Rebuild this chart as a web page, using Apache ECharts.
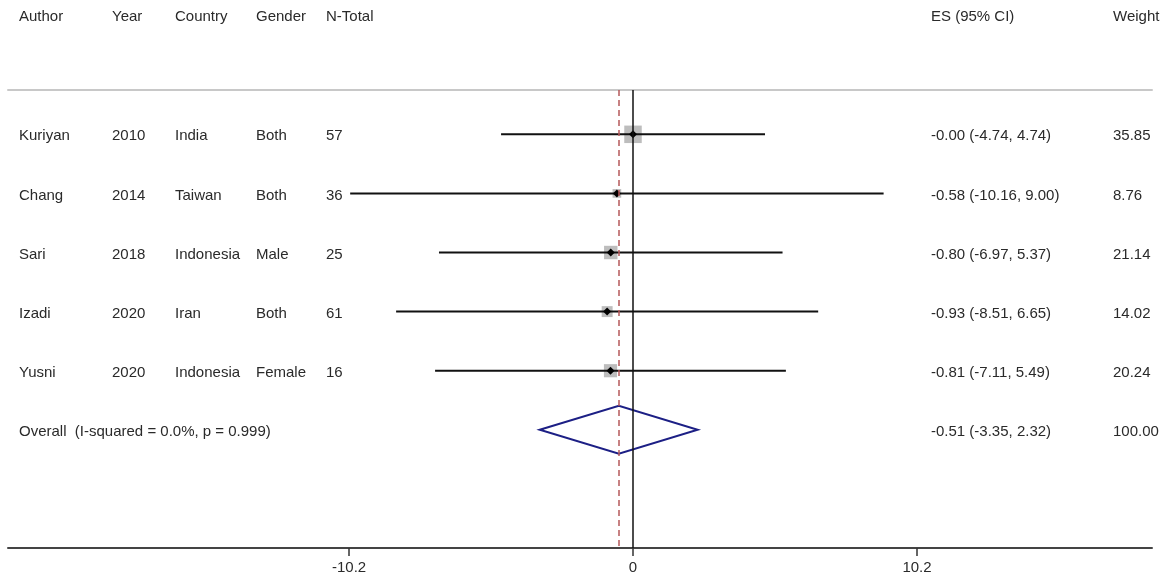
<!DOCTYPE html>
<html>
<head>
<meta charset="utf-8">
<title>Forest plot</title>
<script src="https://cdn.jsdelivr.net/npm/echarts@6/dist/echarts.min.js"></script>
<style>
  html, body { margin: 0; padding: 0; background: #fff; }
</style>
</head>
<body>
<div id="main" style="width: 1164px; height: 581px;"></div>
<script type="text/javascript">
// study rows
var authors = ['Kuriyan', 'Chang', 'Sari', 'Izadi', 'Yusni'];
var years = ['2010', '2014', '2018', '2020', '2020'];
var countries = ['India', 'Taiwan', 'Indonesia', 'Iran', 'Indonesia'];
var genders = ['Both', 'Both', 'Male', 'Both', 'Female'];
var nTotal = [57, 36, 25, 61, 16];
var es = [-0.001, -0.58, -0.80, -0.93, -0.81];
var ciLow = [-4.74, -10.16, -6.97, -8.51, -7.11];
var ciHigh = [4.74, 9.00, 5.37, 6.65, 5.49];
var weights = [35.85, 8.76, 21.14, 14.02, 20.24];

// pooled estimate
var overallEs = -0.51;
var overallLow = -3.35;
var overallHigh = 2.32;
var overallWeight = 100.00;
var iSquared = '0.0%';
var pValue = '0.999';

var headers = ['Author', 'Year', 'Country', 'Gender', 'N-Total', 'ES (95% CI)', 'Weight'];
var xTicks = [-10.2, 0, 10.2];

var chartDom = document.getElementById('main');
var myChart = echarts.init(chartDom);
var option;

var FONT = 'Liberation Sans, Arial, sans-serif';
var TXT = '#2a2a2a';
var colX = [19, 112, 175, 256, 326, 931, 1113];

function fmt(v) {
  var s = Math.abs(v).toFixed(2);
  return (v < 0 ? '-' : '') + s;
}
function esLabel(e, lo, hi) {
  return fmt(e) + ' (' + fmt(lo) + ', ' + fmt(hi) + ')';
}

var studyData = [];
for (var i = 0; i < authors.length; i++) {
  studyData.push([ciLow[i], ciHigh[i], es[i], i + 1, weights[i]]);
}
var overallRow = authors.length + 1;
var tableRows = [];
for (var j = 1; j <= overallRow; j++) tableRows.push([0, j]);

function txt(x, y, s) {
  return {
    type: 'text',
    style: { x: x, y: y + 2, text: s, fill: TXT, font: '15px ' + FONT, textVerticalAlign: 'middle' }
  };
}

option = {
  animation: false,
  backgroundColor: '#fff',
  grid: { left: 8, right: 12, top: 90, bottom: 33, containLabel: false },
  graphic: headers.map(function (h, k) {
    return {
      type: 'text', left: colX[k], top: 9,
      style: { text: h, fill: TXT, font: '15px ' + FONT }
    };
  }),
  xAxis: [
    {
      type: 'value', min: -22.45, max: 18.64,
      splitLine: { show: false },
      axisLine: { show: true, onZero: false, lineStyle: { color: '#444', width: 2 } },
      axisTick: { show: true, customValues: xTicks, length: 8, lineStyle: { color: '#333', width: 1.5 } },
      axisLabel: { customValues: xTicks, color: TXT, fontSize: 15, fontFamily: FONT, margin: 12 }
    },
    {
      type: 'value', position: 'top', min: -22.45, max: 18.64,
      splitLine: { show: false },
      axisLine: { show: true, onZero: false, lineStyle: { color: '#c8c8c8', width: 2 } },
      axisTick: { show: false },
      axisLabel: { show: false }
    }
  ],
  yAxis: {
    type: 'value', inverse: true, min: 0.25, max: 8,
    show: false
  },
  series: [
    {
      type: 'custom',
      name: 'table',
      data: tableRows,
      silent: true,
      renderItem: function (params, api) {
        var r = api.value(1);
        var y = api.coord([0, r])[1];
        var k = params.dataIndex;
        var ch = [];
        if (r < overallRow) {
          ch.push(txt(colX[0], y, authors[k]));
          ch.push(txt(colX[1], y, years[k]));
          ch.push(txt(colX[2], y, countries[k]));
          ch.push(txt(colX[3], y, genders[k]));
          ch.push(txt(colX[4], y, String(nTotal[k])));
          ch.push(txt(colX[5], y, esLabel(es[k], ciLow[k], ciHigh[k])));
          ch.push(txt(colX[6], y, weights[k].toFixed(2)));
        } else {
          ch.push(txt(colX[0], y, 'Overall  (I-squared = ' + iSquared + ', p = ' + pValue + ')'));
          ch.push(txt(colX[5], y, esLabel(overallEs, overallLow, overallHigh)));
          ch.push(txt(colX[6], y, overallWeight.toFixed(2)));
        }
        return { type: 'group', children: ch };
      }
    },
    {
      type: 'custom',
      name: 'studies',
      data: studyData,
      encode: { x: [0, 1, 2], y: 3 },
      z: 3,
      renderItem: function (params, api) {
        var lo = api.coord([api.value(0), api.value(3)]);
        var hi = api.coord([api.value(1), api.value(3)]);
        var c = api.coord([api.value(2), api.value(3)]);
        var side = 17.5 * Math.sqrt(api.value(4) / 35.85);
        var d = 4;
        return {
          type: 'group',
          children: [
            {
              type: 'rect',
              shape: { x: c[0] - side / 2, y: c[1] - side / 2, width: side, height: side },
              style: { fill: '#bdbdbd' }
            },
            {
              type: 'line',
              shape: { x1: lo[0], y1: lo[1], x2: hi[0], y2: hi[1] },
              style: { stroke: '#111', lineWidth: 2 }
            },
            {
              type: 'polygon',
              shape: { points: [[c[0] - d, c[1]], [c[0], c[1] - d], [c[0] + d, c[1]], [c[0], c[1] + d]] },
              style: { fill: '#000' }
            }
          ]
        };
      }
    },
    {
      type: 'custom',
      name: 'overall',
      data: [[overallLow, overallHigh, overallEs, overallRow]],
      encode: { x: [0, 1, 2], y: 3 },
      z: 4,
      renderItem: function (params, api) {
        var r = api.value(3);
        var l = api.coord([api.value(0), r]);
        var h = api.coord([api.value(1), r]);
        var c = api.coord([api.value(2), r]);
        var hh = 24;
        return {
          type: 'polygon',
          shape: { points: [[l[0], c[1]], [c[0], c[1] - hh], [h[0], c[1]], [c[0], c[1] + hh]] },
          style: { fill: 'none', stroke: '#1c1f85', lineWidth: 2 }
        };
      },
      markLine: {
        silent: true,
        symbol: 'none',
        label: { show: false },
        data: [
          { xAxis: 0, lineStyle: { color: '#111', width: 1.5, type: 'solid' } },
          { xAxis: overallEs, lineStyle: { color: '#b5585a', width: 1.5, type: [6, 4] } }
        ]
      }
    }
  ]
};

option && myChart.setOption(option);
</script>
</body>
</html>
